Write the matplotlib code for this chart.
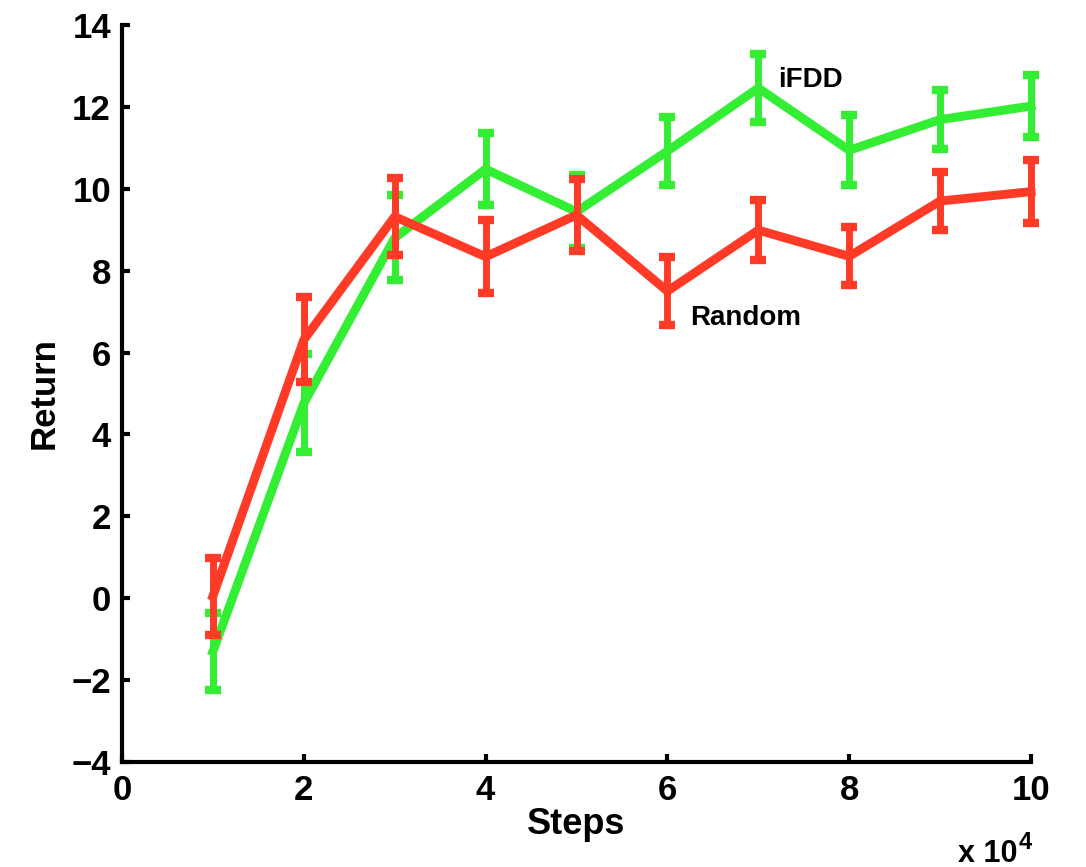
import matplotlib
matplotlib.use("Agg")
import matplotlib.pyplot as plt

plt.rcParams['font.family'] = ['Liberation Sans', 'DejaVu Sans']
plt.rcParams['font.weight'] = 'bold'

# Steps (in units of 10^4)
steps = [1, 2, 3, 4, 5, 6, 7, 8, 9, 10]

# iFDD: mean return and error half-width
ifdd_mean = [-1.30, 4.76, 8.80, 10.48, 9.44, 10.92, 12.46, 10.94, 11.69, 12.02]
ifdd_err = [0.95, 1.20, 1.04, 0.88, 0.89, 0.83, 0.82, 0.85, 0.72, 0.76]

# Random: mean return and error half-width
random_mean = [0.05, 6.31, 9.32, 8.34, 9.36, 7.50, 8.99, 8.35, 9.70, 9.93]
random_err = [0.94, 1.04, 0.94, 0.89, 0.88, 0.83, 0.73, 0.71, 0.71, 0.77]

xticks = [0, 2, 4, 6, 8, 10]
yticks = [-4, -2, 0, 2, 4, 6, 8, 10, 12, 14]

W, H = 1086, 867
fig = plt.figure(figsize=(W / 100, H / 100), dpi=100)
ax = fig.add_axes([122 / W, 1 - 762 / H, (1031 - 122) / W, (762 - 25) / H])

green = '#33EE33'
red = '#FF3B27'

style = dict(linewidth=6.4, elinewidth=5, capsize=5.6, capthick=6)
for mean, err, col, z in ((ifdd_mean, ifdd_err, green, 2),
                          (random_mean, random_err, red, 3)):
    cont = ax.errorbar(steps, mean, yerr=err, color=col, zorder=z, **style)
    for art in cont.lines[1] + cont.lines[2]:
        art.set_clip_on(False)
    cont.lines[0].set_clip_on(False)

ax.text(7.22, 12.65, 'iFDD', fontsize=20, fontweight='bold', va='center', ha='left')
ax.text(6.25, 6.84, 'Random', fontsize=20, fontweight='bold', va='center', ha='left')

ax.set_xlim(0, 10)
ax.set_ylim(-4, 14)
ax.set_xticks(xticks)
ax.set_yticks(yticks)
ax.set_yticklabels(['\u2212' + str(-t) if t < 0 else str(t) for t in yticks])

for side in ('top', 'right'):
    ax.spines[side].set_visible(False)
for side in ('left', 'bottom'):
    ax.spines[side].set_linewidth(3)

ax.tick_params(direction='in', length=6, width=3, labelsize=25, pad=8)
ax.tick_params(axis='x', pad=9)
for lab in ax.get_xticklabels() + ax.get_yticklabels():
    lab.set_fontweight('bold')

ax.set_xlabel('Steps', fontsize=26, fontweight='bold', labelpad=0)
ax.set_ylabel('Return', fontsize=25, fontweight='bold', labelpad=8)

fig.text(1017 / W, 1 - 862 / H, 'x 10', fontsize=22, fontweight='bold', ha='right', va='baseline')
fig.text(1019 / W, 1 - 831 / H, '4', fontsize=17, fontweight='bold', ha='left', va='top')

fig.savefig('out.png', dpi=100)
